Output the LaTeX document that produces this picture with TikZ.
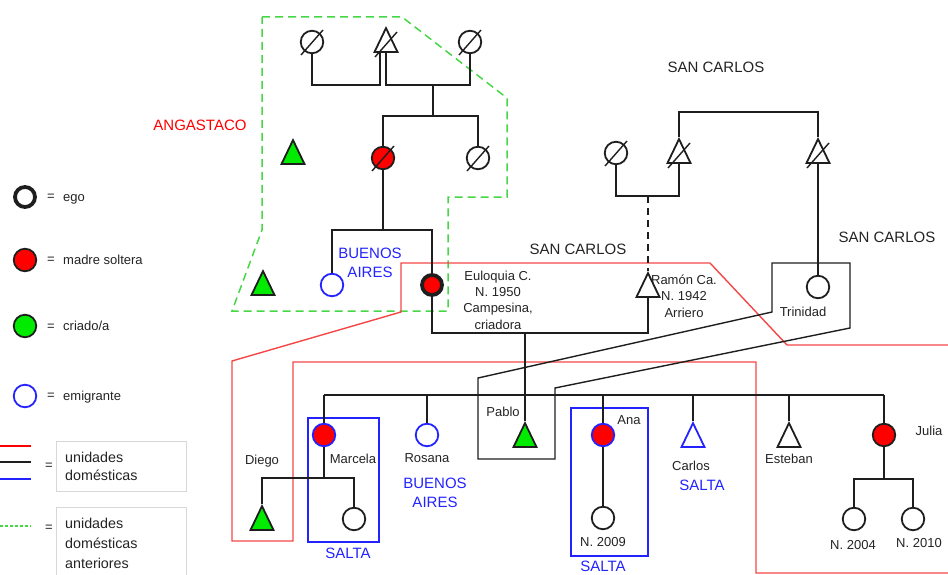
\documentclass[tikz,border=0pt]{standalone}
\usepackage{fontspec}
\setmainfont{Liberation Sans}
\usetikzlibrary{shapes.geometric}
\definecolor{rd}{RGB}{255,0,0}
\definecolor{gf}{RGB}{0,235,0}
\definecolor{bl}{RGB}{35,35,255}
\definecolor{ln}{RGB}{30,30,30}
\definecolor{gd}{RGB}{70,215,70}
\definecolor{rl}{RGB}{245,70,70}
\definecolor{bx}{RGB}{215,215,215}
\definecolor{tx}{RGB}{35,35,35}
\begin{document}
\begin{tikzpicture}[x=1pt,y=-1pt,
  con/.style={draw=ln,line width=1.4pt},
  per/.style={circle,draw=ln,line width=1.8pt,minimum size=22.5pt,inner sep=0pt,fill=white},
  tri/.style={regular polygon,regular polygon sides=3,draw=ln,line width=1.8pt,minimum size=26.5pt,inner sep=0pt,fill=white,yscale=1.2},
  egoc/.style={per,line width=3.8pt,minimum size=20pt},
  sl/.style={draw=ln,line width=1.4pt},
  nm/.style={font=\fontsize{13}{16}\selectfont,text=tx,inner sep=0pt,text height=9.3pt,text depth=0pt},
  nml/.style={font=\fontsize{13}{16.3}\selectfont,text=tx,inner sep=0pt,align=center},
  lbl/.style={font=\fontsize{15}{19}\selectfont,inner sep=0pt,text height=10.7pt,text depth=0pt},
  lbll/.style={font=\fontsize{15}{19}\selectfont,inner sep=0pt,align=center},
  lgb/.style={font=\fontsize{14.3}{18}\selectfont,text=tx,inner sep=0pt,align=left,anchor=west}
]
\useasboundingbox (0,0) rectangle (948,575);

% outlines of domestic units
\draw[gd,line width=1.5pt,dash pattern=on 8pt off 5pt] (262,17) -- (402,17) -- (507,98) -- (507,197) -- (448,197) -- (448,311) -- (232,311) -- (262,230) -- cycle;
\draw[rl,line width=1.4pt] (952,345) -- (787,345) -- (710,263) -- (401,263) -- (401,312) -- (232,361) -- (232,541) -- (293,541) -- (293,362) -- (756,362) -- (756,573) -- (952,573);
\draw[con] (772,263) -- (850,263) -- (850,328) -- (555,388) -- (555,459) -- (478,459) -- (478,378) -- (772,312) -- cycle;
\draw[bl,line width=1.4pt] (308,418) rectangle (379,542);
\draw[bl,line width=1.4pt] (571,408) rectangle (648,556);

% persons
\node[per] (c1) at (312,42) {};
\node[tri] (tA) at (386,44) {};
\node[per] (c2) at (470,42) {};
\node[per,fill=rd] (c3) at (383,158) {};
\node[per] (c4) at (478,158) {};
\node[tri,fill=gf] (g1) at (293,156) {};
\node[tri,fill=gf] (g2) at (263,287) {};
\node[per,draw=bl] (b1) at (332,285) {};
\node[egoc,fill=rd] (eu) at (432,285) {};

\node[per] (c5) at (616,153) {};
\node[tri] (tB) at (679,155) {};
\node[tri] (tC) at (818,155) {};
\node[tri] (ra) at (648,289) {};
\node[per] (tr) at (818,287) {};

\node[tri,fill=gf] (pa) at (525,439) {};
\node[per,draw=bl,fill=rd] (ma) at (324,435) {};
\node[per,draw=bl] (ro) at (427,435) {};
\node[per,draw=bl,fill=rd] (an) at (603,435) {};
\node[tri,draw=bl] (ca) at (693,439) {};
\node[tri] (es) at (789,439) {};
\node[per,fill=rd] (ju) at (884,435) {};
\node[tri,fill=gf] (di) at (262,522) {};
\node[per] (mc) at (354,519) {};
\node[per] (n09) at (603,518) {};
\node[per] (n04) at (854,519) {};
\node[per] (n10) at (913,519) {};

% deceased slashes
\foreach \n in {c1,tA,c2,c3,c4,c5,tB,tC}
  \draw[sl] (\n.center) ++(-11,13) -- ++(22,-25);

% connectors, upper left family
\coordinate (mL) at (380,85);
\coordinate (mR) at (433,85);
\draw[con] (c1.south) |- (mL) -- (mL |- tA.south);
\draw[con] (tA.south) |- (mR) -| (c2.south);
\coordinate (kL) at (433,116);
\draw[con] (mR) -- (kL);
\draw[con] (c3.north) |- (kL) -| (c4.north);
\coordinate (k2) at (383,230);
\draw[con] (c3.south) -- (k2);
\draw[con] (b1.north) |- (k2) -| (eu.north);

% upper right family
\coordinate (tt) at (750,112);
\draw[con] (tB.north) |- (tt) -| (tC.north);
\coordinate (mR2) at (648,196);
\draw[con] (c5.south) |- (mR2) -| (tB.south);
\draw[con,dash pattern=on 7pt off 5pt] (mR2) -- (ra.north);
\draw[con] (tC.south) -- (tr.north);

% Euloquia and Ramon
\coordinate (mE) at (525,333);
\draw[con] (eu.south) |- (mE) -| (ra.south);
\draw[con] (mE) -- (pa.north);

% children
\coordinate (sb) at (600,395);
\draw[con] (ma.north |- sb) -- (ju.north |- sb);
\foreach \n in {ma,ro,an,ca,es,ju}
  \draw[con] (\n.north |- sb) -- (\n.north);
\coordinate (kM) at (324,478);
\draw[con] (ma.south) -- (kM);
\draw[con] (di.north) |- (kM) -| (mc.north);
\draw[con] (an.south) -- (n09.north);
\coordinate (kJ) at (884,479);
\draw[con] (ju.south) -- (kJ);
\draw[con] (n04.north) |- (kJ) -| (n10.north);

% place labels
\node[lbl,text=rd] (lANG) at (200,125) {ANGASTACO};
\node[lbl,text=tx] (lSC1) at (716,67) {SAN CARLOS};
\node[lbl,text=tx] (lSC2) at (887,237) {SAN CARLOS};
\node[lbl,text=tx] (lSC3) at (578,249) {SAN CARLOS};
\node[lbll,text=bl] (lBA1) at (370,263) {BUENOS\\AIRES};
\node[lbll,text=bl] (lBA2) at (435,493) {BUENOS\\AIRES};
\node[lbl,text=bl] (lSA1) at (348,553) {SALTA};
\node[lbl,text=bl] (lSA2) at (702,485) {SALTA};
\node[lbl,text=bl] (lSA3) at (603,566) {SALTA};

% names
\node[nml] (tEu) at (498,300) {Euloquia C.\\N. 1950\\Campesina,\\criadora};
\node[nml] (tRa) at (684,296) {Ramón Ca.\\N. 1942\\Arriero};
\node[nm] (tTr) at (803,312) {Trinidad};
\node[nm] (tPa) at (503,412) {Pablo};
\node[nm] (tDi) at (262,460) {Diego};
\node[nm] (tMa) at (353,459) {Marcela};
\node[nm] (tRo) at (427,458) {Rosana};
\node[nm] (tAn) at (629,420) {Ana};
\node[nm] (tN09) at (603,542) {N. 2009};
\node[nm] (tCa) at (691,466) {Carlos};
\node[nm] (tEs) at (789,459) {Esteban};
\node[nm] (tJu) at (929,431) {Julia};
\node[nm] (tN04) at (853,545) {N. 2004};
\node[nm] (tN10) at (919,543) {N. 2010};

% legend
\node[egoc] (lg1) at (25,197) {};
\node[per,fill=rd] (lg2) at (25,260) {};
\node[per,fill=gf] (lg3) at (25,326) {};
\node[per,draw=bl] (lg4) at (25,396) {};
\node[nm] (e1) at (51,196) {=};
\node[nm] (e2) at (51,259) {=};
\node[nm] (e3) at (51,326) {=};
\node[nm] (e4) at (51,395) {=};
\node[nm,anchor=west] (t1) at (63,197) {ego};
\node[nm,anchor=west] (t2) at (63,260) {madre soltera};
\node[nm,anchor=west] (t3) at (63,326) {criado/a};
\node[nm,anchor=west] (t4) at (63,396) {emigrante};
\draw[rd,line width=1.4pt] (0,446) -- (31,446);
\draw[ln,line width=1.4pt] (0,462) -- (31,462);
\draw[bl,line width=1.4pt] (0,479) -- (31,479);
\draw[gd,line width=1.5pt,dash pattern=on 3pt off 2pt] (0,526) -- (31,526);
\node[nm] (e5) at (49,465) {=};
\node[nm] (e6) at (49,527) {=};
\draw[bx,line width=0.8pt] (56,441) rectangle (186,491);
\draw[bx,line width=0.8pt] (56,507) rectangle (186,590);
\node[lgb] (u1) at (65,466) {unidades\\domésticas};
\node[lgb,font=\fontsize{14.3}{20}\selectfont] (u2) at (65,543) {unidades\\domésticas\\anteriores};
\end{tikzpicture}
\end{document}
